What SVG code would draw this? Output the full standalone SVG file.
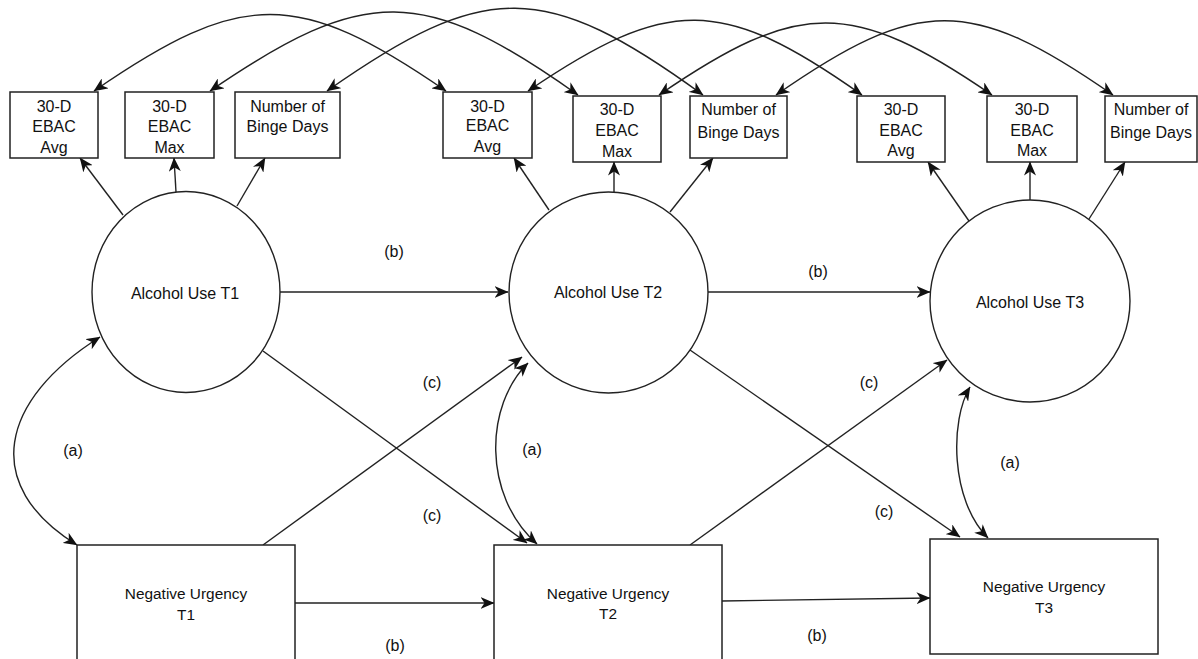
<svg xmlns="http://www.w3.org/2000/svg" width="1198" height="659" viewBox="0 0 1198 659">
  <style>
    .box { fill: #fff; stroke: #222; stroke-width: 1.5; }
    .lat { fill: #fff; stroke: #222; stroke-width: 1.4; }
    .t { font-family: "Liberation Sans", Arial, sans-serif; font-size: 16px; fill: #111; text-anchor: middle; }
    .nu { font-size: 15.4px; }
    .e { fill: none; stroke: #222; stroke-width: 1.4; }
    .one { marker-end: url(#head); }
    .two { marker-start: url(#head); marker-end: url(#head); }
  </style>
  <defs>
    <marker id="head" markerUnits="userSpaceOnUse" markerWidth="14" markerHeight="12" viewBox="0 0 14 12" refX="13.5" refY="6" orient="auto-start-reverse">
      <path d="M0,0 L14,6 L0,12 L4,6 Z" fill="#111"/>
    </marker>
  </defs>
  <rect width="1198" height="659" fill="#fff"/>

  <!-- connectors -->
  <g id="connectors">
    <!-- residual covariances between repeated indicators -->
    <path class="e two" d="M94,91 C242,-11 298,-11 446,91"/>
    <path class="e two" d="M210,91 C365,-15 423,-15 578,95"/>
    <path class="e two" d="M327,91 C485,-20 545,-20 703,95"/>
    <path class="e two" d="M528,91 C668,-4 722,-4 862,95"/>
    <path class="e two" d="M659,95 C799,-1 852,-1 992,95"/>
    <path class="e two" d="M776,95 C918,-4 971,-4 1113,95"/>

    <!-- loadings -->
    <path class="e one" d="M123,215 L80,158"/>
    <path class="e one" d="M176,192 L174,158"/>
    <path class="e one" d="M237,206 L265,158"/>
    <path class="e one" d="M549,210 L514,158"/>
    <path class="e one" d="M614,192 L614,162"/>
    <path class="e one" d="M670,212 L713,158"/>
    <path class="e one" d="M969,221 L928,162"/>
    <path class="e one" d="M1030,200 L1030,162"/>
    <path class="e one" d="M1089,219 L1125,162"/>

    <!-- autoregressive paths (b) -->
    <path class="e one" d="M280,292 L508,292"/>
    <path class="e one" d="M708,292 L930,292"/>
    <path class="e one" d="M295,603 L494,603"/>
    <path class="e one" d="M722,601 L930,598"/>

    <!-- cross-lagged paths (c) -->
    <path class="e one" d="M263,351 L527,543"/>
    <path class="e one" d="M263,545 L522,357"/>
    <path class="e one" d="M690,350 L960,537"/>
    <path class="e one" d="M690,545 L947,360"/>

    <!-- within-time covariances (a) -->
    <path class="e two" d="M100,337 C0,400 -20,485 77,545"/>
    <path class="e two" d="M528,363 C485,405 482,495 537,544"/>
    <path class="e two" d="M970,387 C950,420 950,500 988,538"/>

    <!-- path labels -->
    <text class="t" x="394" y="257">(b)</text>
    <text class="t" x="818" y="277">(b)</text>
    <text class="t" x="395" y="651">(b)</text>
    <text class="t" x="817" y="641">(b)</text>
    <text class="t" x="432" y="388">(c)</text>
    <text class="t" x="432" y="521">(c)</text>
    <text class="t" x="869" y="388">(c)</text>
    <text class="t" x="884" y="517">(c)</text>
    <text class="t" x="73" y="456">(a)</text>
    <text class="t" x="532" y="455">(a)</text>
    <text class="t" x="1010" y="468">(a)</text>
  </g>

  <!-- indicators, time 1 -->
  <g id="ebac-avg-t1">
    <rect class="box" x="10" y="92" width="88" height="66"/>
    <text class="t" x="54" y="112">30-D</text>
    <text class="t" x="54" y="132">EBAC</text>
    <text class="t" x="54" y="153">Avg</text>
  </g>
  <g id="ebac-max-t1">
    <rect class="box" x="125" y="92" width="89" height="66"/>
    <text class="t" x="169.5" y="112">30-D</text>
    <text class="t" x="169.5" y="132">EBAC</text>
    <text class="t" x="169.5" y="153">Max</text>
  </g>
  <g id="binge-t1">
    <rect class="box" x="235" y="92" width="105" height="66"/>
    <text class="t" x="287.5" y="112">Number of</text>
    <text class="t" x="287.5" y="132">Binge Days</text>
  </g>

  <!-- indicators, time 2 -->
  <g id="ebac-avg-t2">
    <rect class="box" x="443" y="92" width="89" height="66"/>
    <text class="t" x="487.5" y="112">30-D</text>
    <text class="t" x="487.5" y="131">EBAC</text>
    <text class="t" x="487.5" y="152">Avg</text>
  </g>
  <g id="ebac-max-t2">
    <rect class="box" x="573" y="96" width="88" height="66"/>
    <text class="t" x="617" y="115">30-D</text>
    <text class="t" x="617" y="136">EBAC</text>
    <text class="t" x="617" y="157">Max</text>
  </g>
  <g id="binge-t2">
    <rect class="box" x="690" y="96" width="97" height="62"/>
    <text class="t" x="738.5" y="115">Number of</text>
    <text class="t" x="738.5" y="138">Binge Days</text>
  </g>

  <!-- indicators, time 3 -->
  <g id="ebac-avg-t3">
    <rect class="box" x="857" y="96" width="88" height="66"/>
    <text class="t" x="901" y="115">30-D</text>
    <text class="t" x="901" y="136">EBAC</text>
    <text class="t" x="901" y="156">Avg</text>
  </g>
  <g id="ebac-max-t3">
    <rect class="box" x="987" y="96" width="90" height="66"/>
    <text class="t" x="1032" y="115">30-D</text>
    <text class="t" x="1032" y="136">EBAC</text>
    <text class="t" x="1032" y="156">Max</text>
  </g>
  <g id="binge-t3">
    <rect class="box" x="1105" y="96" width="92" height="66"/>
    <text class="t" x="1151" y="115">Number of</text>
    <text class="t" x="1151" y="138">Binge Days</text>
  </g>

  <!-- latent alcohol use -->
  <g id="alcohol-t1">
    <ellipse class="lat" cx="186" cy="292" rx="94" ry="100.5"/>
    <text class="t" x="185" y="299">Alcohol Use T1</text>
  </g>
  <g id="alcohol-t2">
    <ellipse class="lat" cx="608.5" cy="292.5" rx="99.5" ry="100.5"/>
    <text class="t" x="608" y="298">Alcohol Use T2</text>
  </g>
  <g id="alcohol-t3">
    <ellipse class="lat" cx="1030" cy="301" rx="100" ry="101"/>
    <text class="t" x="1030" y="308">Alcohol Use T3</text>
  </g>

  <!-- negative urgency -->
  <g id="urgency-t1">
    <rect class="box" x="77" y="545" width="218" height="130"/>
    <text class="t nu" x="186" y="599">Negative Urgency</text>
    <text class="t nu" x="186" y="620">T1</text>
  </g>
  <g id="urgency-t2">
    <rect class="box" x="494" y="545" width="228" height="130"/>
    <text class="t nu" x="608" y="599">Negative Urgency</text>
    <text class="t nu" x="608" y="619">T2</text>
  </g>
  <g id="urgency-t3">
    <rect class="box" x="930" y="539" width="228" height="115"/>
    <text class="t nu" x="1044" y="592">Negative Urgency</text>
    <text class="t nu" x="1044" y="613">T3</text>
  </g>
</svg>
